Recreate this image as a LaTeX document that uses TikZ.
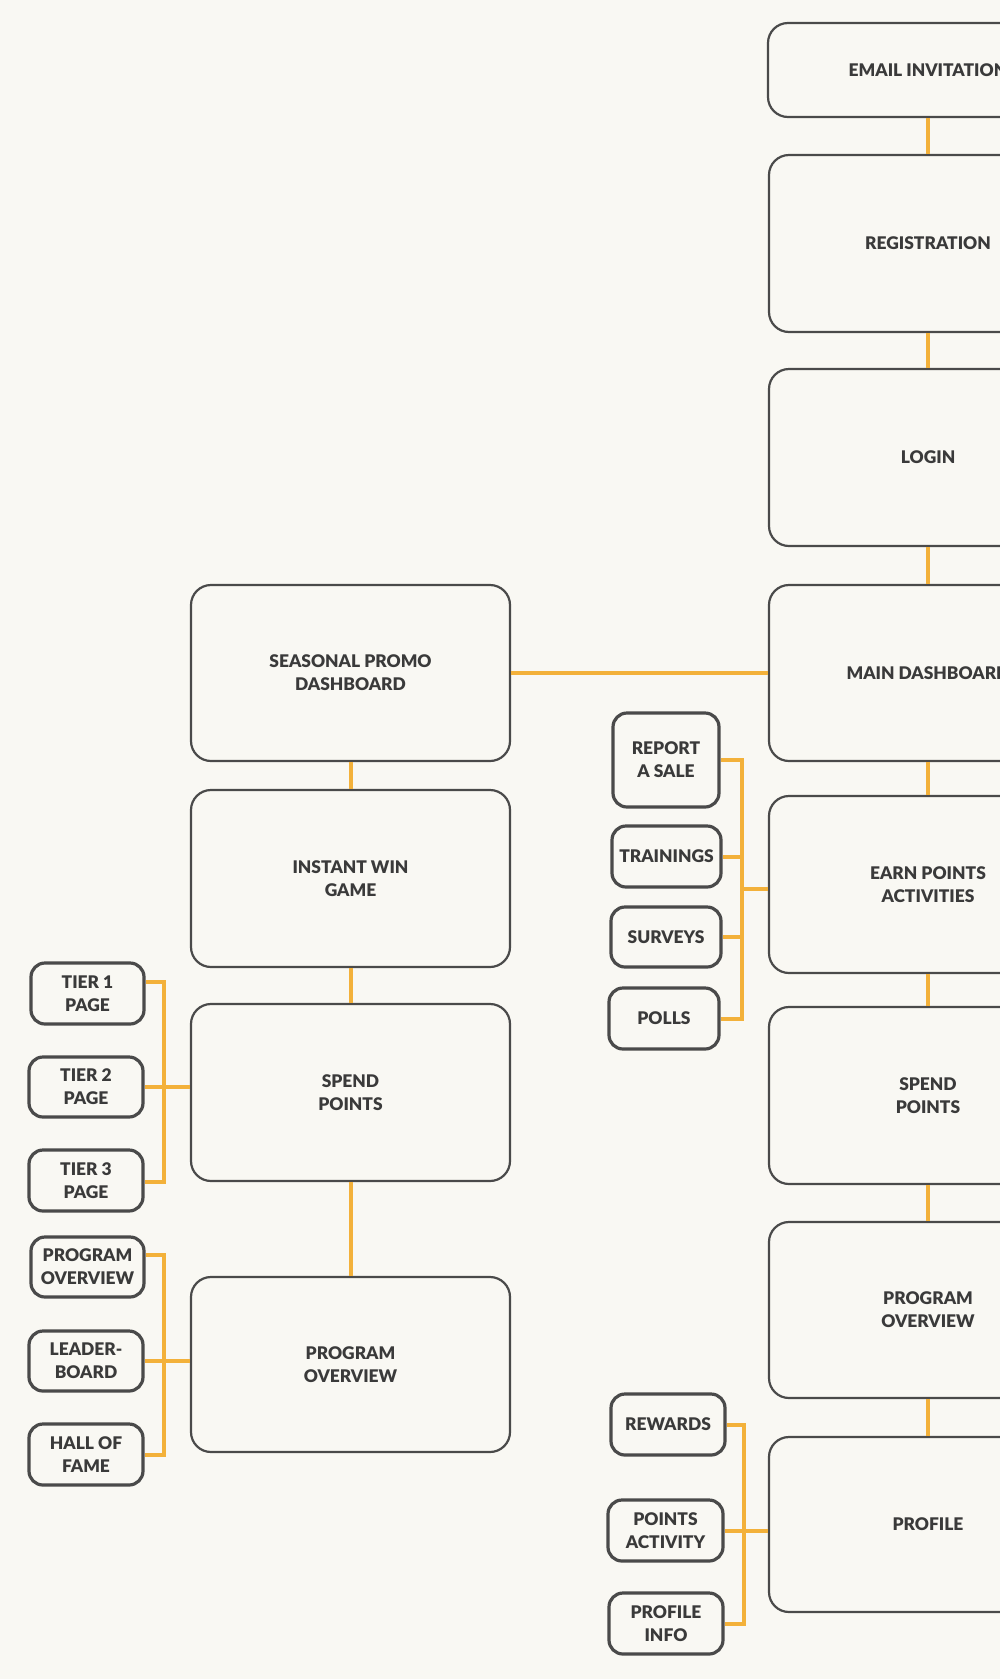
\documentclass[tikz,border=0pt]{standalone}
\usepackage{fontspec}
\setmainfont{Lato}[BoldFont={Lato Black}]
\definecolor{bgc}{HTML}{F9F8F3}
\definecolor{edge}{HTML}{4A4A4A}
\definecolor{txt}{HTML}{3A3A3A}
\definecolor{orng}{HTML}{F3B13A}
\tikzset{
  big/.style={draw=edge, line width=2.2pt, rounded corners=20pt, minimum width=318pt, align=center,
    text=txt, font=\fontsize{17.4}{23}\selectfont\bfseries, inner sep=0pt},
  small/.style={draw=edge, line width=3.2pt, rounded corners=14pt, align=center,
    text=txt, font=\fontsize{17.4}{23}\selectfont\bfseries, inner sep=0pt},
  conn/.style={draw=orng, line width=4pt}
}
\begin{document}
\begin{tikzpicture}[x=1pt,y=-1pt]
\fill[bgc] (0,0) rectangle (1000,1679);
\clip (0,0) rectangle (1000,1679);
% right column
\node[big, minimum width=320pt, minimum height=94pt] (email) at (928,70) {EMAIL INVITATION};
\node[big, minimum height=177pt] (reg) at (928,243.5) {REGISTRATION};
\node[big, minimum height=177pt] (login) at (928,457.5) {LOGIN};
\node[big, minimum height=176pt] (main) at (928,673) {MAIN DASHBOARD};
\node[big, minimum height=177pt] (earn) at (928,884.5) {EARN POINTS\\ACTIVITIES};
\node[big, minimum height=177pt] (spendR) at (928,1095.5) {SPEND\\POINTS};
\node[big, minimum height=176pt] (progR) at (928,1310) {PROGRAM\\OVERVIEW};
\node[big, minimum height=175pt] (profile) at (928,1524.5) {PROFILE};
% left column
\node[big, minimum width=319pt, minimum height=176pt] (seasonal) at (350.5,673) {SEASONAL PROMO\\DASHBOARD};
\node[big, minimum width=319pt, minimum height=177pt] (instant) at (350.5,878.5) {INSTANT WIN\\GAME};
\node[big, minimum width=319pt, minimum height=177pt] (spendL) at (350.5,1092.5) {SPEND\\POINTS};
\node[big, minimum width=319pt, minimum height=175pt] (progL) at (350.5,1364.5) {PROGRAM\\OVERVIEW};
% small boxes left
\node[small, minimum width=113pt, minimum height=61pt] (t1) at (87.5,993.5) {TIER 1\\PAGE};
\node[small, minimum width=114pt, minimum height=60pt] (t2) at (86,1087) {TIER 2\\PAGE};
\node[small, minimum width=114pt, minimum height=61pt] (t3) at (86,1180.5) {TIER 3\\PAGE};
\node[small, minimum width=113pt, minimum height=60pt] (po) at (87.5,1267) {PROGRAM\\OVERVIEW};
\node[small, minimum width=114pt, minimum height=60pt] (lb) at (86,1361) {LEADER-\\BOARD};
\node[small, minimum width=114pt, minimum height=61pt] (hf) at (86,1454.5) {HALL OF\\FAME};
% small boxes right
\node[small, minimum width=106pt, minimum height=94pt] (report) at (666,760) {REPORT\\A SALE};
\node[small, minimum width=109pt, minimum height=61pt] (train) at (666.5,856.5) {TRAININGS};
\node[small, minimum width=110pt, minimum height=60pt] (surv) at (666,937) {SURVEYS};
\node[small, minimum width=110pt, minimum height=61pt] (polls) at (664,1018.5) {POLLS};
\node[small, minimum width=114pt, minimum height=61pt] (rew) at (668,1424.5) {REWARDS};
\node[small, minimum width=115pt, minimum height=61pt] (pact) at (665.5,1530.5) {POINTS\\ACTIVITY};
\node[small, minimum width=114pt, minimum height=61pt] (pinfo) at (666,1623.5) {PROFILE\\INFO};
% vertical connectors
\draw[conn] (email.south) -- (reg.north);
\draw[conn] (reg.south) -- (login.north);
\draw[conn] (login.south) -- (main.north);
\draw[conn] (main.south) -- (earn.north);
\draw[conn] (earn.south) -- (spendR.north);
\draw[conn] (spendR.south) -- (progR.north);
\draw[conn] (progR.south) -- (profile.north);
\draw[conn] (seasonal.south) -- (instant.north);
\draw[conn] (instant.south) -- (spendL.north);
\draw[conn] (spendL.south) -- (progL.north);
\draw[conn] (seasonal.east) -- (main.west);
% left tier bracket
\coordinate (tbt) at (164,982);
\coordinate (tbb) at (164,1182);
\draw[conn] (t1.east |- tbt) -- (tbt) -- (tbb) -- (t3.east |- tbb);
\draw[conn] (t2.east) -- (spendL.west |- t2.east);
% left program bracket
\coordinate (pbt) at (164,1255);
\coordinate (pbb) at (164,1455);
\draw[conn] (po.east |- pbt) -- (pbt) -- (pbb) -- (hf.east |- pbb);
\draw[conn] (lb.east) -- (progL.west |- lb.east);
% right earn bracket
\coordinate (ebt) at (742,760);
\coordinate (ebb) at (742,1019);
\coordinate (ebm) at (742,889);
\draw[conn] (report.east |- ebt) -- (ebt) -- (ebb) -- (polls.east |- ebb);
\draw[conn] (train.east) -- (ebt |- train.east);
\draw[conn] (surv.east) -- (ebt |- surv.east);
\draw[conn] (ebm) -- (earn.west |- ebm);
% right profile bracket
\coordinate (fbt) at (744,1424.5);
\coordinate (fbb) at (744,1624);
\draw[conn] (rew.east) -- (fbt) -- (fbb) -- (pinfo.east |- fbb);
\draw[conn] (pact.east) -- (profile.west |- pact.east);
\end{tikzpicture}
\end{document}
